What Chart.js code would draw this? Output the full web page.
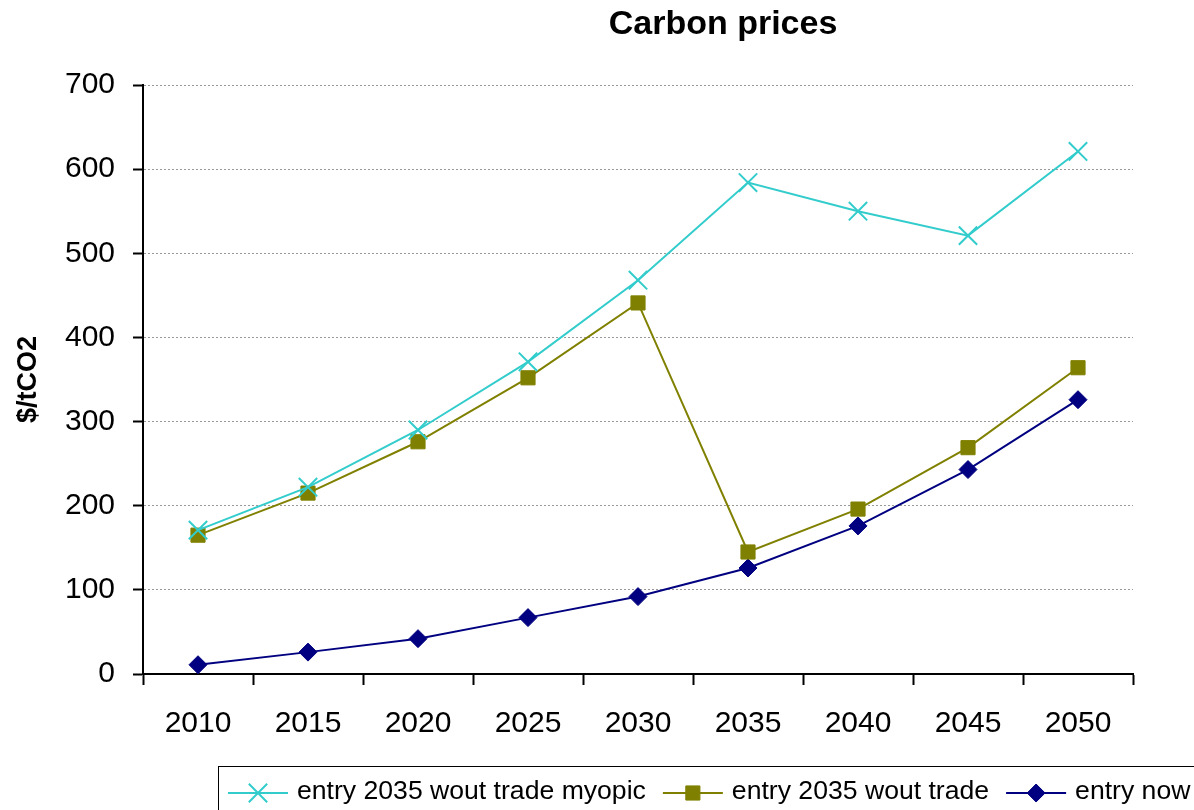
<!DOCTYPE html>
<html>
<head>
<meta charset="utf-8">
<title>Carbon prices</title>
<script src="https://cdn.jsdelivr.net/npm/chart.js@4/dist/chart.umd.min.js"></script>
<style>
    html, body { margin: 0; padding: 0; background: #fff; }
    #wrap { width: 1194px; height: 810px; }
</style>
</head>
<body>
<div id="wrap"><canvas id="carbonChart" width="1194" height="810"></canvas></div>
<script>
// chart data
const years = ['2010', '2015', '2020', '2025', '2030', '2035', '2040', '2045', '2050'];
const myopic = [171, 222, 290, 371, 468, 584, 550, 521, 621];
const woutTrade = [165, 215, 276, 352, 441, 145, 196, 269, 364];
const entryNow = [11, 26, 42, 67, 92, 126, 176, 243, 326];
const yTicks = [0, 100, 200, 300, 400, 500, 600, 700];

const FONT = '"Liberation Sans", Arial, sans-serif';

// Title drawn off-centre like the original
const titlePlugin = {
    id: 'offTitle',
    afterDraw(chart) {
        const ctx = chart.ctx;
        ctx.save();
        ctx.font = 'bold 34px ' + FONT;
        ctx.fillStyle = '#000';
        ctx.textAlign = 'center';
        ctx.textBaseline = 'middle';
        ctx.fillText('Carbon prices', 723, 25);
        ctx.restore();
    }
};

// Boxed legend at the bottom, line + marker icons
const boxLegend = {
    id: 'boxLegend',
    afterDraw(chart) {
        const ctx = chart.ctx;
        ctx.save();
        ctx.strokeStyle = '#000';
        ctx.lineWidth = 1;
        ctx.strokeRect(218.5, 766.5, 1010, 60);

        ctx.font = '26.6px ' + FONT;
        ctx.textBaseline = 'middle';
        let x = 228;
        const y = 793;
        chart.data.datasets.forEach(ds => {
            ctx.strokeStyle = ds.borderColor;
            ctx.lineWidth = 2;
            ctx.beginPath();
            ctx.moveTo(x, y);
            ctx.lineTo(x + 60, y);
            ctx.stroke();
            // drawPoint fills/strokes with current style
            ctx.fillStyle = ds.pointBackgroundColor;
            ctx.strokeStyle = ds.pointBorderColor;
            ctx.lineWidth = ds.pointBorderWidth;
            Chart.helpers.drawPoint(ctx, {
                pointStyle: ds.pointStyle,
                radius: ds.pointRadius,
                borderWidth: ds.pointBorderWidth,
                rotation: 0
            }, x + 30, y);
            ctx.fillStyle = '#000';
            ctx.fillText(ds.label, x + 69, y - 1);
            x += 69 + ctx.measureText(ds.label).width + 17;
        });
        ctx.restore();
    }
};

const ctx = document.getElementById('carbonChart').getContext('2d');
new Chart(ctx, {
    type: 'line',
    data: {
        labels: years,
        datasets: [
            {
                label: 'entry 2035 wout trade myopic',
                data: myopic,
                borderColor: '#33CCCC',
                backgroundColor: '#33CCCC',
                borderWidth: 2,
                pointStyle: 'crossRot',
                pointRadius: 13,
                pointBorderWidth: 2,
                pointBorderColor: '#33CCCC',
                pointBackgroundColor: '#33CCCC',
                tension: 0
            },
            {
                label: 'entry 2035 wout trade',
                data: woutTrade,
                borderColor: '#808000',
                backgroundColor: '#808000',
                borderWidth: 2,
                pointStyle: 'rect',
                pointRadius: 10,
                pointBorderWidth: 1,
                pointBorderColor: '#808000',
                pointBackgroundColor: '#808000',
                tension: 0
            },
            {
                label: 'entry now',
                data: entryNow,
                borderColor: '#000080',
                backgroundColor: '#000080',
                borderWidth: 2,
                pointStyle: 'rectRot',
                pointRadius: 9,
                pointBorderWidth: 1,
                pointBorderColor: '#000080',
                pointBackgroundColor: '#000080',
                tension: 0
            }
        ]
    },
    options: {
        responsive: false,
        animation: false,
        layout: { padding: { top: 85, right: 61, bottom: 0, left: 0 } },
        plugins: {
            legend: { display: false },
            title: { display: false },
            tooltip: { enabled: false }
        },
        scales: {
            x: {
                offset: true,
                grid: {
                    offset: true,
                    drawOnChartArea: false,
                    drawTicks: true,
                    tickLength: 11,
                    tickColor: '#000',
                    tickWidth: 2
                },
                border: { color: '#000', width: 2 },
                ticks: {
                    color: '#000',
                    padding: 21,
                    font: { family: FONT, size: 30 },
                    maxRotation: 0
                },
                afterFit(scale) { scale.height = 136; }
            },
            y: {
                min: 0,
                max: 700,
                afterBuildTicks(scale) {
                    scale.ticks = yTicks.map(v => ({ value: v }));
                },
                grid: {
                    color: '#999',
                    lineWidth: 1,
                    tickLength: 10,
                    tickColor: '#000',
                    tickWidth: 2,
                    tickBorderDash: []
                },
                border: { color: '#000', width: 2, dash: [2, 2] },
                ticks: {
                    color: '#000',
                    padding: 18,
                    font: { family: FONT, size: 30 }
                },
                title: {
                    display: true,
                    text: '$/tCO2',
                    color: '#000',
                    font: { family: FONT, size: 27, weight: 'bold' },
                    padding: { top: 12, bottom: 0 }
                },
                afterFit(scale) { scale.width = 143; }
            }
        }
    },
    plugins: [titlePlugin, boxLegend]
});
</script>
</body>
</html>
